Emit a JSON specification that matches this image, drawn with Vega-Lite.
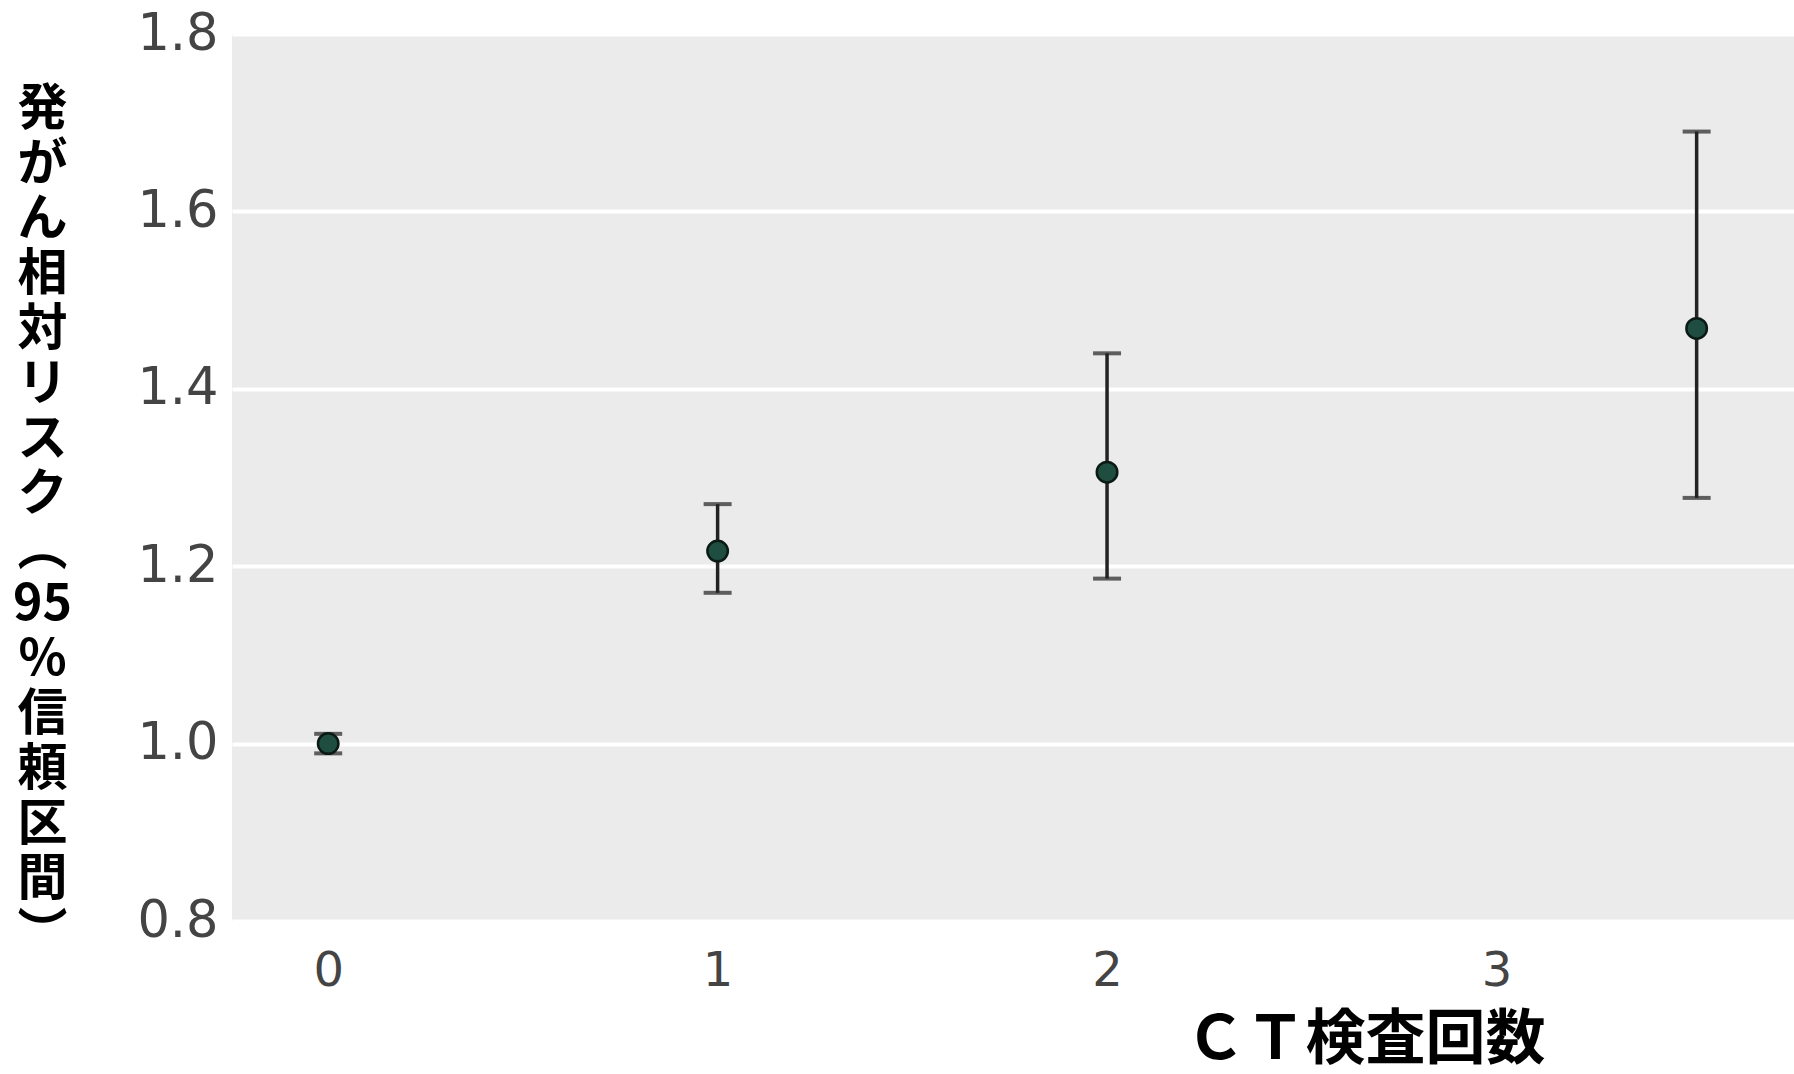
{
  "$schema": "https://vega.github.io/schema/vega-lite/v6.json",
  "width": 1562,
  "height": 887,
  "autosize": {"type": "none"},
  "padding": {"left": 232, "top": 34, "right": 0, "bottom": 153},
  "background": "white",
  "config": {
    "view": {"fill": "#ebebeb", "stroke": null}
  },
  "data": {
    "values": [
      {"n": 0, "rr": 1.0, "lo": 0.989, "hi": 1.011},
      {"n": 1, "rr": 1.217, "lo": 1.17, "hi": 1.27},
      {"n": 2, "rr": 1.306, "lo": 1.186, "hi": 1.44},
      {"n": 3.514, "rr": 1.468, "lo": 1.277, "hi": 1.69}
    ]
  },
  "encoding": {
    "x": {
      "field": "n",
      "type": "quantitative",
      "scale": {"domain": [-0.247, 3.764], "nice": false, "zero": false},
      "axis": {
        "values": [0, 1, 2, 3],
        "grid": false,
        "domain": false,
        "ticks": false,
        "labelFont": "DejaVu Sans",
        "labelFontSize": 48,
        "labelColor": "#444444",
        "labelPadding": 26,
        "labelFlush": false,
        "title": "ＣＴ検査回数",
        "titleFont": "Noto Sans CJK JP",
        "titleFontWeight": "bold",
        "titleFontSize": 60,
        "titleColor": "#000000",
        "titleX": 1133,
        "titleY": 119,
        "titleAlign": "center",
        "titleBaseline": "middle"
      }
    }
  },
  "layer": [
    {
      "mark": {"type": "rule", "color": "#222222", "strokeWidth": 3.5},
      "encoding": {
        "y": {
          "field": "lo",
          "type": "quantitative",
          "scale": {"domain": [0.8, 1.8], "nice": false, "zero": false},
          "axis": {
            "values": [0.8, 1.0, 1.2, 1.4, 1.6, 1.8],
            "format": ".1f",
            "grid": true,
            "gridColor": "#ffffff",
            "gridWidth": 4,
            "domain": false,
            "ticks": false,
            "labelFont": "DejaVu Sans",
            "labelFontSize": 51,
            "labelColor": "#444444",
            "labelPadding": 14,
            "labelFlush": false,
            "title": ["発", "が", "ん", "相", "対", "リ", "ス", "ク", "︵", "95", "%", "信", "頼", "区", "間", "︶"],
            "titleAngle": 0,
            "titleFont": "Noto Sans CJK JP",
            "titleFontWeight": "bold",
            "titleFontSize": 50,
            "titleLineHeight": 55,
            "titleColor": "#000000",
            "titleX": -190,
            "titleY": 50,
            "titleAlign": "center",
            "titleBaseline": "top"
          }
        },
        "y2": {"field": "hi"}
      }
    },
    {
      "mark": {"type": "tick", "orient": "horizontal", "color": "#222222", "size": 28, "thickness": 4},
      "encoding": {
        "y": {"field": "lo", "type": "quantitative"}
      }
    },
    {
      "mark": {"type": "tick", "orient": "horizontal", "color": "#222222", "size": 28, "thickness": 4},
      "encoding": {
        "y": {"field": "hi", "type": "quantitative"}
      }
    },
    {
      "mark": {"type": "point", "shape": "circle", "filled": true, "fill": "#1f4d3f", "stroke": "#0b1a15", "strokeWidth": 2.5, "size": 420, "opacity": 1},
      "encoding": {
        "y": {"field": "rr", "type": "quantitative"}
      }
    }
  ]
}
